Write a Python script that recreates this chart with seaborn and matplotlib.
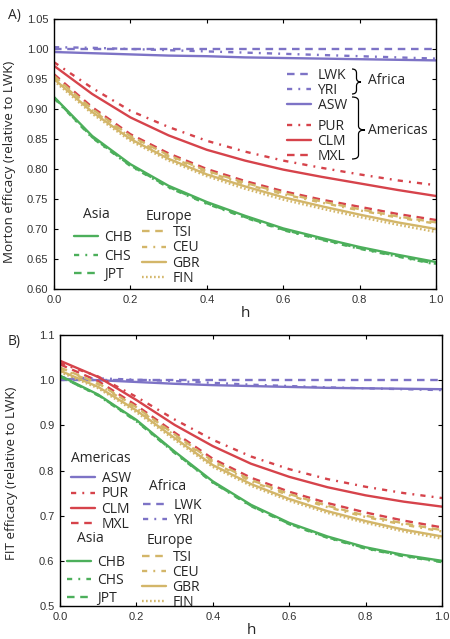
import matplotlib
matplotlib.use("Agg")
import matplotlib.pyplot as plt
from matplotlib.lines import Line2D
from matplotlib.legend import Legend
from matplotlib.path import Path
from matplotlib.patches import PathPatch
import numpy as np
import pandas as pd
import seaborn as sns

# dominance coefficient grid
h = [0.0, 0.1, 0.2, 0.3, 0.4, 0.5, 0.6, 0.7, 0.8, 0.9, 1.0]

# Panel A: Morton efficacy relative to LWK
A_LWK = [1.000, 1.000, 1.000, 1.000, 1.000, 1.000, 1.000, 1.000, 1.000, 1.000, 1.000]
A_YRI = [1.003, 1.002, 1.000, 0.998, 0.996, 0.994, 0.992, 0.990, 0.988, 0.986, 0.984]
A_ASW = [0.995, 0.993, 0.991, 0.989, 0.988, 0.986, 0.985, 0.984, 0.983, 0.982, 0.981]
A_PUR = [0.978, 0.935, 0.897, 0.870, 0.847, 0.829, 0.814, 0.802, 0.791, 0.781, 0.773]
A_CLM = [0.972, 0.925, 0.886, 0.856, 0.832, 0.814, 0.799, 0.787, 0.776, 0.765, 0.755]
A_MXL = [0.958, 0.903, 0.858, 0.826, 0.800, 0.780, 0.763, 0.749, 0.737, 0.725, 0.715]
A_TSI = [0.955, 0.900, 0.855, 0.823, 0.797, 0.777, 0.760, 0.746, 0.733, 0.721, 0.711]
A_CEU = [0.953, 0.898, 0.853, 0.821, 0.795, 0.775, 0.758, 0.744, 0.731, 0.719, 0.709]
A_GBR = [0.950, 0.895, 0.850, 0.817, 0.791, 0.771, 0.753, 0.738, 0.724, 0.711, 0.700]
A_FIN = [0.947, 0.892, 0.847, 0.814, 0.788, 0.767, 0.749, 0.734, 0.720, 0.707, 0.695]
A_CHB = [0.920, 0.855, 0.808, 0.772, 0.745, 0.722, 0.701, 0.685, 0.670, 0.657, 0.645]
A_CHS = [0.918, 0.852, 0.805, 0.769, 0.742, 0.719, 0.698, 0.682, 0.667, 0.654, 0.641]
A_JPT = [0.919, 0.853, 0.806, 0.770, 0.743, 0.720, 0.699, 0.683, 0.668, 0.655, 0.642]

# Panel B: FIT efficacy relative to LWK
B_LWK = [1.000, 1.000, 1.000, 1.000, 1.000, 1.000, 1.000, 1.000, 1.000, 1.000, 1.000]
B_YRI = [1.006, 1.004, 1.001, 0.998, 0.994, 0.990, 0.987, 0.984, 0.982, 0.980, 0.978]
B_ASW = [1.003, 1.000, 0.996, 0.992, 0.989, 0.987, 0.985, 0.983, 0.982, 0.981, 0.980]
B_PUR = [1.038, 1.008, 0.963, 0.913, 0.868, 0.831, 0.803, 0.781, 0.764, 0.750, 0.739]
B_CLM = [1.043, 1.007, 0.956, 0.901, 0.854, 0.815, 0.786, 0.763, 0.745, 0.731, 0.720]
B_MXL = [1.035, 0.998, 0.944, 0.884, 0.826, 0.784, 0.753, 0.728, 0.707, 0.689, 0.674]
B_TSI = [1.028, 0.993, 0.940, 0.880, 0.821, 0.779, 0.748, 0.722, 0.700, 0.683, 0.668]
B_CEU = [1.026, 0.991, 0.938, 0.878, 0.818, 0.776, 0.745, 0.719, 0.697, 0.680, 0.665]
B_GBR = [1.021, 0.985, 0.933, 0.872, 0.812, 0.770, 0.737, 0.710, 0.688, 0.669, 0.654]
B_FIN = [1.018, 0.982, 0.929, 0.868, 0.808, 0.766, 0.733, 0.706, 0.684, 0.665, 0.649]
B_CHB = [1.010, 0.968, 0.912, 0.842, 0.776, 0.724, 0.684, 0.654, 0.630, 0.613, 0.600]
B_CHS = [1.009, 0.966, 0.909, 0.839, 0.773, 0.721, 0.681, 0.651, 0.627, 0.610, 0.597]
B_JPT = [1.008, 0.967, 0.910, 0.840, 0.774, 0.722, 0.682, 0.652, 0.628, 0.611, 0.598]

pops = ["LWK", "YRI", "ASW", "PUR", "CLM", "MXL", "TSI", "CEU", "GBR", "FIN",
        "CHB", "CHS", "JPT"]
panel_A = dict(LWK=A_LWK, YRI=A_YRI, ASW=A_ASW, PUR=A_PUR, CLM=A_CLM, MXL=A_MXL,
               TSI=A_TSI, CEU=A_CEU, GBR=A_GBR, FIN=A_FIN, CHB=A_CHB, CHS=A_CHS, JPT=A_JPT)
panel_B = dict(LWK=B_LWK, YRI=B_YRI, ASW=B_ASW, PUR=B_PUR, CLM=B_CLM, MXL=B_MXL,
               TSI=B_TSI, CEU=B_CEU, GBR=B_GBR, FIN=B_FIN, CHB=B_CHB, CHS=B_CHS, JPT=B_JPT)

PURPLE, RED, GREEN, TAN = "#7d73c6", "#d6434b", "#4caf5b", "#d3b669"
palette = dict(LWK=PURPLE, YRI=PURPLE, ASW=PURPLE, PUR=RED, CLM=RED, MXL=RED,
               TSI=TAN, CEU=TAN, GBR=TAN, FIN=TAN, CHB=GREEN, CHS=GREEN, JPT=GREEN)
DASH, DASHDOT, DOT, SOLID = (3.2, 2.4), (2.2, 2.6, 0.8, 2.6), (0.7, 1.0), ""
dashes = dict(LWK=DASH, YRI=DASHDOT, ASW=SOLID, PUR=DASHDOT, CLM=SOLID, MXL=DASH,
              TSI=DASH, CEU=DASHDOT, GBR=SOLID, FIN=DOT, CHB=SOLID, CHS=DASHDOT, JPT=DASH)
LW = 1.7


def to_long(panel):
    rows = []
    for p in pops:
        for x, y in zip(h, panel[p]):
            rows.append((p, x, y))
    return pd.DataFrame(rows, columns=["pop", "h", "eff"])


sns.set_theme(style="ticks")
plt.rcParams.update({
    "font.family": ["Liberation Sans", "DejaVu Sans"],
    "xtick.direction": "in", "ytick.direction": "in",
    "xtick.top": True, "ytick.right": True,
    "xtick.major.size": 3, "ytick.major.size": 3,
    "xtick.major.width": 0.8, "ytick.major.width": 0.8,
    "xtick.labelsize": 8, "ytick.labelsize": 8,
    "axes.edgecolor": "black", "axes.linewidth": 1.0,
})

W, H = 450, 639
fig = plt.figure(figsize=(W / 100, H / 100), dpi=100)


def fx(px):
    return px / W


def fy(py):
    return 1 - py / H


LABEL_FONT = {"family": "Open Sans", "size": 10}
AXIS_FONT = {"family": "Open Sans", "size": 9.6}

axA = fig.add_axes([fx(54), fy(289), fx(436) - fx(54), fy(19) - fy(289)])
axB = fig.add_axes([fx(60), fy(606), fx(442) - fx(60), fy(335) - fy(606)])

for ax, panel in ((axA, panel_A), (axB, panel_B)):
    sns.lineplot(data=to_long(panel), x="h", y="eff", hue="pop", style="pop",
                 hue_order=pops, style_order=pops, palette=palette, dashes=dashes,
                 linewidth=LW, legend=False, ax=ax)
    ax.set_xlim(0, 1)
    ax.set_xticks(np.arange(0, 1.01, 0.2))
    ax.set_xticklabels([f"{v:.1f}" for v in np.arange(0, 1.01, 0.2)])
    ax.tick_params(colors="black", labelcolor="#333333", pad=4)
    ax.set_xlabel("h", fontdict={"family": "Open Sans", "size": 11}, labelpad=1)
    for s in ax.spines.values():
        s.set_color("black")

axA.set_ylim(0.60, 1.05)
axA.set_yticks(np.arange(0.60, 1.051, 0.05))
axA.set_yticklabels([f"{v:.2f}" for v in np.arange(0.60, 1.051, 0.05)])
axA.set_ylabel("Morton efficacy (relative to LWK)", fontdict=AXIS_FONT)
axA.yaxis.set_label_coords(-0.10, 0.47)

axB.set_ylim(0.5, 1.1)
axB.set_yticks(np.arange(0.5, 1.101, 0.1))
axB.set_yticklabels([f"{v:.1f}" for v in np.arange(0.5, 1.101, 0.1)])
axB.set_ylabel("FIT efficacy (relative to LWK)", fontdict=AXIS_FONT)
axB.yaxis.set_label_coords(-0.109, 0.49)

fig.text(fx(8), fy(15), "A)", fontdict=LABEL_FONT, va="center", ha="left")
fig.text(fx(8), fy(342), "B)", fontdict=LABEL_FONT, va="center", ha="left")


def key_legend(ax, names, left, first_center, pitch):
    handles = [Line2D([], [], color=palette[n], lw=LW,
                      dashes=dashes[n] if dashes[n] else (None, None))
               for n in names]
    spacing = max(pitch - 13.9, 0) / 13.9
    leg = Legend(ax, handles, names, loc="upper left",
                 bbox_to_anchor=(fx(left), fy(first_center - 7)),
                 bbox_transform=fig.transFigure, frameon=False,
                 borderpad=0, borderaxespad=0, handlelength=1.7,
                 handletextpad=0.5, labelspacing=spacing, prop=LABEL_FONT)
    ax.add_artist(leg)


def group_title(text, left, center):
    fig.text(fx(left), fy(center), text, fontdict=LABEL_FONT, ha="left", va="center")


def brace(x0, y0, y1, tip_y, width):
    mid = x0 + width / 2
    r = 4
    pts = [(x0, y0), (mid, y0), (mid, y0 + r), (mid, tip_y - r),
           (mid, tip_y), (x0 + width, tip_y), (mid, tip_y), (mid, tip_y + r),
           (mid, y1 - r), (mid, y1), (x0, y1)]
    codes = [Path.MOVETO, Path.CURVE3, Path.CURVE3, Path.LINETO,
             Path.CURVE3, Path.CURVE3, Path.CURVE3, Path.CURVE3,
             Path.LINETO, Path.CURVE3, Path.CURVE3]
    verts = [(fx(x), fy(y)) for x, y in pts]
    fig.add_artist(PathPatch(Path(verts, codes), transform=fig.transFigure,
                             fill=False, lw=0.9, color="black"))


# Panel A keys
key_legend(axA, ["LWK", "YRI", "ASW"], 287, 75, 14)
key_legend(axA, ["PUR", "CLM", "MXL"], 287, 126, 13.5)
brace(352, 69, 94, 82, 9)
brace(352, 97, 159, 130, 13)
group_title("Africa", 368, 81)
group_title("Americas", 368, 130)
key_legend(axA, ["CHB", "CHS", "JPT"], 74, 237, 17.5)
key_legend(axA, ["TSI", "CEU", "GBR", "FIN"], 142, 232, 14.3)
group_title("Asia", 83, 215)
group_title("Europe", 146, 216)

# Panel B keys
key_legend(axB, ["ASW", "PUR", "CLM", "MXL"], 71, 478, 14.3)
key_legend(axB, ["LWK", "YRI"], 143, 505, 14)
key_legend(axB, ["CHB", "CHS", "JPT"], 67, 562, 17)
key_legend(axB, ["TSI", "CEU", "GBR", "FIN"], 142, 557, 14)
group_title("Americas", 71, 458)
group_title("Africa", 149, 486)
group_title("Asia", 77, 539)
group_title("Europe", 147, 540)

fig.savefig("out.png", dpi=100)
